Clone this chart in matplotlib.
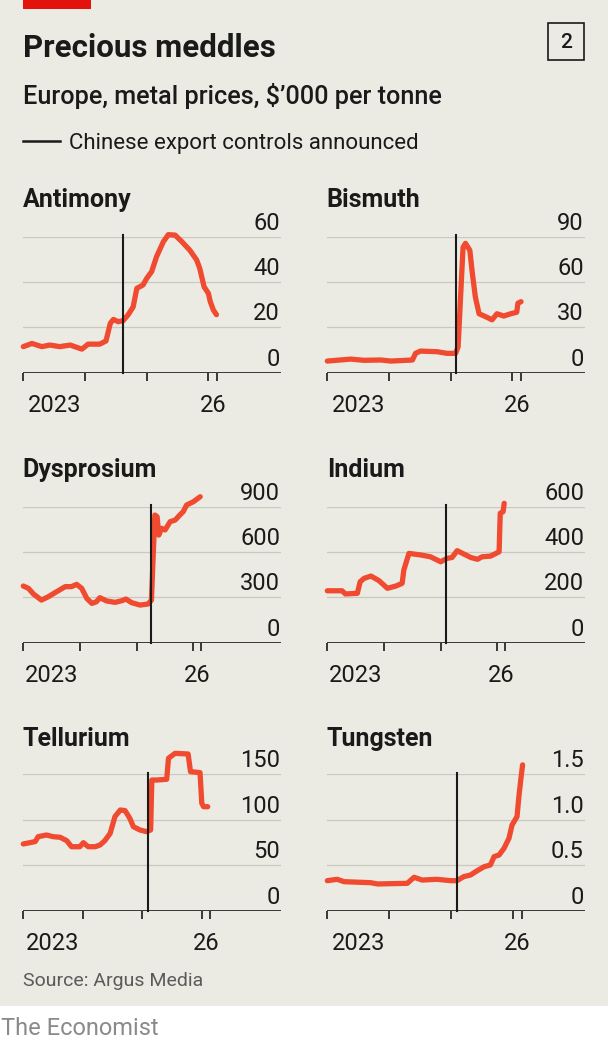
import matplotlib
matplotlib.use('Agg')
import matplotlib.pyplot as plt
import matplotlib.transforms as mtransforms
from matplotlib.patches import Rectangle

plt.rcParams['font.family'] = ['Roboto', 'DejaVu Sans']

# ---- data (decimal years, $'000 per tonne) ----
antimony_t = [2023.00, 2023.14, 2023.30, 2023.43, 2023.59, 2023.76, 2023.95, 2024.05, 2024.24, 2024.34,
              2024.41, 2024.46, 2024.54, 2024.62, 2024.70, 2024.78, 2024.84, 2024.94, 2025.00, 2025.08,
              2025.16, 2025.27, 2025.35, 2025.46, 2025.57, 2025.70, 2025.81, 2025.86, 2025.93, 2026.00,
              2026.03, 2026.08, 2026.13]
antimony_v = [11.5, 12.9, 11.5, 12.2, 11.5, 12.2, 10.4, 12.6, 12.6, 14.0,
              21.8, 23.5, 22.5, 23.0, 25.6, 29.0, 37.2, 38.7, 41.6, 44.6,
              51.2, 57.8, 60.9, 60.7, 57.8, 54.0, 49.7, 46.0, 37.9, 35.0,
              31.4, 27.7, 25.6]

bismuth_t = [2023.00, 2023.38, 2023.59, 2023.87, 2024.03, 2024.38, 2024.43, 2024.51, 2024.78, 2024.94,
             2025.08, 2025.12, 2025.16, 2025.20, 2025.24, 2025.31, 2025.35, 2025.40, 2025.46, 2025.57,
             2025.67, 2025.75, 2025.86, 2025.97, 2026.07, 2026.09, 2026.14]
bismuth_v = [7.7, 9.0, 8.2, 8.4, 7.7, 8.4, 12.8, 14.3, 13.9, 12.8,
             12.8, 17.2, 50.0, 83.0, 85.6, 81.0, 66.0, 50.0, 39.0, 37.0,
             35.0, 39.0, 37.5, 39.0, 40.0, 46.0, 47.0]

dysprosium_t = [2023.00, 2023.09, 2023.18, 2023.32, 2023.44, 2023.59, 2023.74, 2023.85, 2023.94, 2024.03,
                2024.12, 2024.21, 2024.29, 2024.35, 2024.47, 2024.62, 2024.74, 2024.81, 2024.91, 2025.06,
                2025.20, 2025.26, 2025.29, 2025.32, 2025.36, 2025.39, 2025.44, 2025.50, 2025.59, 2025.68,
                2025.76, 2025.82, 2025.88, 2026.00, 2026.12]
dysprosium_v = [375, 360, 322, 282, 304, 338, 371, 371, 386, 360,
                293, 260, 271, 298, 276, 267, 278, 289, 265, 249,
                256, 282, 569, 845, 834, 712, 757, 746, 801, 812,
                845, 867, 911, 933, 966]

indium_t = [2023.00, 2023.26, 2023.32, 2023.53, 2023.58, 2023.65, 2023.77, 2023.91, 2024.06, 2024.21,
            2024.32, 2024.35, 2024.44, 2024.65, 2024.82, 2025.00, 2025.11, 2025.20, 2025.29, 2025.41,
            2025.53, 2025.65, 2025.73, 2025.88, 2026.03, 2026.05, 2026.10, 2026.12]
indium_v = [229, 229, 215, 218, 269, 284, 294, 274, 240, 250,
            262, 321, 394, 387, 379, 357, 372, 376, 406, 391,
            376, 368, 379, 382, 401, 571, 578, 615]

tellurium_t = [2023.00, 2023.11, 2023.20, 2023.25, 2023.39, 2023.50, 2023.62, 2023.73, 2023.81, 2023.95,
               2024.01, 2024.09, 2024.21, 2024.29, 2024.37, 2024.46, 2024.54, 2024.63, 2024.71, 2024.79,
               2024.85, 2024.96, 2025.07, 2025.14, 2025.16, 2025.24, 2025.41, 2025.44, 2025.55, 2025.77,
               2025.81, 2025.97, 2026.00, 2026.03, 2026.10]
tellurium_v = [73.4, 74.8, 76.0, 81.4, 83.2, 81.4, 80.7, 77.0, 70.4, 70.4,
               74.8, 70.4, 70.4, 72.3, 77.0, 85.0, 103.3, 110.6, 109.9, 101.5,
               92.3, 88.7, 86.9, 88.7, 143.4, 143.4, 144.2, 167.2, 172.6, 171.9,
               152.6, 151.5, 117.9, 114.2, 114.2]

tungsten_t = [2023.00, 2023.16, 2023.27, 2023.70, 2023.81, 2024.29, 2024.40, 2024.53, 2024.77, 2024.99,
              2025.09, 2025.20, 2025.31, 2025.42, 2025.53, 2025.63, 2025.69, 2025.77, 2025.85, 2025.93,
              2025.98, 2026.06, 2026.09, 2026.12, 2026.15]
tungsten_v = [0.332, 0.347, 0.321, 0.310, 0.296, 0.303, 0.369, 0.339, 0.347, 0.332,
              0.332, 0.376, 0.394, 0.442, 0.485, 0.504, 0.595, 0.613, 0.686, 0.796,
              0.942, 1.033, 1.252, 1.434, 1.600]

# export-control announcement dates
control_dates = {'Antimony': 2024.62, 'Bismuth': 2025.09, 'Dysprosium': 2025.26,
                 'Indium': 2025.09, 'Tellurium': 2025.09, 'Tungsten': 2025.09}

W, H = 608, 1042
BG = '#ECEBE3'
RED = '#F04B30'
GRID = '#C9C8C1'
INK = '#1A1A1A'

fig = plt.figure(figsize=(W / 100, H / 100), dpi=100)
fig.patch.set_facecolor('white')


def fx(x):
    return x / W


def fy(y):
    return 1 - y / H


fig.add_artist(Rectangle((0, fy(1005.5)), 1, 1005.5 / H, transform=fig.transFigure,
                         facecolor=BG, edgecolor='none', zorder=0))
fig.add_artist(Rectangle((fx(23), fy(9)), 68 / W, 9 / H, transform=fig.transFigure,
                         facecolor='#E3120B', edgecolor='none'))

fig.text(fx(23), fy(57), 'Precious meddles', fontsize=22.5, fontweight='bold', color=INK, va='baseline')
fig.add_artist(Rectangle((fx(547.5), fy(60)), 36.5 / W, 37 / H, transform=fig.transFigure,
                         facecolor='none', edgecolor=INK, lw=1.2))
fig.text(fx(566), fy(42), '2', fontsize=15, fontweight='medium', color=INK, ha='center', va='center')
fig.text(fx(23), fy(104), "Europe, metal prices, $\u2019000 per tonne", fontsize=18.2,
         fontweight='medium', color=INK, va='baseline')
fig.add_artist(plt.Line2D([fx(23), fx(60)], [fy(140.7), fy(140.7)], transform=fig.transFigure,
                          color=INK, lw=1.8))
fig.text(fx(69), fy(149), 'Chinese export controls announced', fontsize=16, fontweight='normal',
         color=INK, va='baseline')


def panel(name, t, v, left, base, top, title_y, grid, labels, ppy):
    ax = fig.add_axes([fx(left), fy(base), 257.7 / W, (base - top) / H])
    ax.set_xlim(2023, 2023 + 257.7 / ppy)
    ax.set_ylim(0, grid[-1])
    ax.patch.set_alpha(0)
    for s in ax.spines.values():
        s.set_visible(False)
    for g in grid[1:]:
        ax.axhline(g, color=GRID, lw=0.9, zorder=1)
    ax.axhline(0, color=INK, lw=1.2, zorder=4)
    ax.plot(t, v, color=RED, lw=3.8, clip_on=False, solid_joinstyle='round',
            solid_capstyle='round', zorder=2)
    c = control_dates[name]
    ax.plot([c, c], [0, grid[-1] * 1.01], color=INK, lw=1.5, zorder=3, clip_on=False)
    ax.set_xticks([2023, 2024, 2025, 2026, 2026.14])
    ax.tick_params(axis='x', length=6, width=1.2, color=INK, labelbottom=False)
    ax.set_yticks([])

    up = mtransforms.offset_copy(ax.get_yaxis_transform(), fig=fig, x=-1, y=7, units='dots')
    for g, lab in zip(grid, labels):
        ax.text(1, g, lab, transform=up, ha='right', va='baseline', fontsize=17, color=INK)
    down = mtransforms.offset_copy(ax.transData, fig=fig, y=-39, units='dots')
    ax.text(2023.5, 0, '2023', transform=down, ha='center', va='baseline', fontsize=17, color=INK)
    ax.text(2026.07, 0, '26', transform=down, ha='center', va='baseline', fontsize=17, color=INK)
    fig.text(fx(left - 0.5), fy(title_y), name, fontsize=18, fontweight='bold', color=INK, va='baseline')


panel('Antimony', antimony_t, antimony_v, 23.3, 372.7, 236.7, 207, [0, 20, 40, 60], ['0', '20', '40', '60'], 61.7)
panel('Bismuth', bismuth_t, bismuth_v, 327.3, 372.7, 236.7, 207, [0, 30, 60, 90], ['0', '30', '60', '90'], 61.7)
panel('Dysprosium', dysprosium_t, dysprosium_v, 23.3, 642.7, 506.7, 477, [0, 300, 600, 900],
      ['0', '300', '600', '900'], 56.7)
panel('Indium', indium_t, indium_v, 327.3, 642.7, 506.7, 477, [0, 200, 400, 600], ['0', '200', '400', '600'], 56.7)
panel('Tellurium', tellurium_t, tellurium_v, 23.3, 911, 774, 746, [0, 50, 100, 150], ['0', '50', '100', '150'], 59.5)
panel('Tungsten', tungsten_t, tungsten_v, 327.3, 911, 774, 746, [0, 0.5, 1.0, 1.5], ['0', '0.5', '1.0', '1.5'], 62)

fig.text(fx(23), fy(986.5), 'Source: Argus Media', fontsize=14, color='#5A5A5A', va='baseline')
fig.text(fx(1), fy(1035), 'The Economist', fontsize=17, color='#8A8A8A', va='baseline')

fig.savefig('out.png', dpi=100, facecolor=fig.get_facecolor())
